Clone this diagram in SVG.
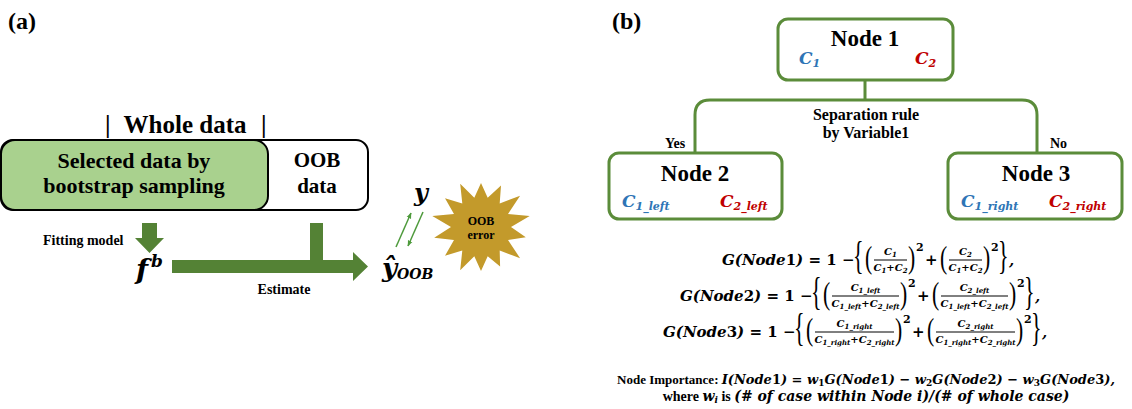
<svg xmlns="http://www.w3.org/2000/svg" width="1132" height="409" viewBox="0 0 1132 409">
<defs>
<style>
.lbl{font-family:"Liberation Serif",serif;font-weight:bold;fill:#000}
.m{font-family:"DejaVu Serif",serif;font-weight:bold;font-style:italic;fill:#000}
.up{font-style:normal}
.fr{font-family:"DejaVu Serif",serif;font-weight:bold;font-style:italic;font-size:10px;text-anchor:middle}
.sb{font-size:7px}
.sup{font-family:"DejaVu Serif",serif;font-weight:bold;font-size:11px}
.dl{font-family:"Liberation Serif",serif;font-weight:normal;fill:#000}
.bar{stroke:#000;stroke-width:1}
.node rect{fill:#fff;stroke:#5b8c3a;stroke-width:3}
.nt{font-family:"Liberation Serif",serif;font-weight:bold;font-size:23px;text-anchor:middle}
.cv{font-family:"DejaVu Serif",serif;font-weight:bold;font-style:italic;font-size:17px}
.cs{font-size:11px}
.blue{fill:#2e75b6}
.red{fill:#c00000}
.arr{fill:#548235}
.thin{stroke:#4e9a3c;stroke-width:1.5;fill:none}
</style>
<marker id="ah" viewBox="0 0 10 10" refX="9" refY="5" markerWidth="6" markerHeight="6" orient="auto" markerUnits="userSpaceOnUse">
<path d="M0,1 L10,5 L0,9 z" fill="#4e9a3c"/>
</marker>
</defs>
<rect width="1132" height="409" fill="#fff"/>

<!-- (a) -->
<text class="lbl" x="8" y="29" font-size="24">(a)</text>
<text class="lbl" x="612" y="29" font-size="24">(b)</text>

<g id="whole-label">
<text class="lbl" font-size="25" x="105" y="133">|</text>
<text class="lbl" font-size="25" x="185" y="133" text-anchor="middle">Whole data</text>
<text class="lbl" font-size="25" x="261" y="133">|</text>
</g>

<g id="whole-data">
<rect x="1" y="140" width="367" height="70" rx="12" fill="#fff" stroke="#000" stroke-width="2"/>
<text class="lbl" font-size="21" x="317" y="167" text-anchor="middle">OOB</text>
<text class="lbl" font-size="21" x="317" y="193" text-anchor="middle">data</text>
</g>
<g id="bootstrap">
<rect x="1" y="140" width="267" height="70" rx="14" fill="#a9d18e" stroke="#000" stroke-width="2"/>
<text class="lbl" font-size="22" x="134" y="168" text-anchor="middle">Selected data by</text>
<text class="lbl" font-size="22" x="134" y="193" text-anchor="middle">bootstrap sampling</text>
</g>

<g id="connectors-a">
<polygon class="arr" points="142,223 157,223 157,238 164,238 149.5,253 135,238 142,238"/>
<polygon class="arr" points="172,260 310,260 310,223 323,223 323,260 353,260 353,252 368,266.5 353,281 353,273 172,273"/>
<line class="thin" x1="396" y1="247" x2="411" y2="213" marker-end="url(#ah)"/>
<line class="thin" x1="423" y1="212" x2="408" y2="246" marker-end="url(#ah)"/>
<text class="lbl" font-size="14" x="43" y="245">Fitting model</text>
<text class="lbl" font-size="14" x="284" y="294" text-anchor="middle">Estimate</text>
</g>

<g id="fb">
<text class="m" font-size="28" x="136" y="279">f<tspan font-size="17" dx="3" dy="-12">b</tspan></text>
</g>
<g id="yhat">
<text class="m" font-size="26" x="382" y="277">ŷ<tspan font-size="14" dy="2">OOB</tspan></text>
</g>
<g id="y">
<text class="m" font-size="24" x="414" y="201">y</text>
</g>
<g id="oob-error">
<polygon fill="#c39a2b" points="481,183 487.7,197.8 501,185.6 499.7,203.5 520.1,195.8 508,214 529.7,215.9 511,227 525.8,237.2 508,240 520.1,258.2 499.7,250.5 500.1,266.6 487.7,256.2 481,271 474.3,256.2 460.2,270.2 462.3,250.5 445,255.7 454,240 434.2,237.7 451,227 432.3,215.9 454,214 445,198.3 462.3,203.5 460.2,183.8 474.3,197.8"/>
<text class="lbl" font-size="12" x="481" y="225" text-anchor="middle" fill="#3a2a05">OOB</text>
<text class="lbl" font-size="12" x="481" y="239" text-anchor="middle" fill="#3a2a05">error</text>
</g>

<!-- (b) -->
<g id="connectors">
<path d="M865,80 V100 M695,153 V115 Q695,100 710,100 H1022 Q1037,100 1037,115 V153" fill="none" stroke="#5b8c3a" stroke-width="3"/>
<text class="lbl" font-size="16" x="866" y="120" text-anchor="middle">Separation rule</text>
<text class="lbl" font-size="16" x="866" y="138" text-anchor="middle">by Variable1</text>
<text class="lbl" font-size="14" x="665" y="148">Yes</text>
<text class="lbl" font-size="14" x="1050" y="148">No</text>
</g>

<g id="node1" class="node">
<rect x="778" y="19" width="175" height="61" rx="10"/>
<text class="nt" x="865" y="46">Node 1</text>
<text class="cv blue" x="799" y="64">C<tspan class="cs" dy="3">1</tspan></text>
<text class="cv red" x="915" y="64">C<tspan class="cs" dy="3">2</tspan></text>
</g>
<g id="node2" class="node">
<rect x="609" y="153" width="173" height="66" rx="10"/>
<text class="nt" x="695" y="181">Node 2</text>
<text class="cv blue" x="622" y="207">C<tspan class="cs" dy="3">1_left</tspan></text>
<text class="cv red" x="720" y="207">C<tspan class="cs" dy="3">2_left</tspan></text>
</g>
<g id="node3" class="node">
<rect x="948" y="153" width="174" height="66" rx="10"/>
<text class="nt" x="1036" y="181">Node 3</text>
<text class="cv blue" x="961" y="207">C<tspan class="cs" dy="3">1_right</tspan></text>
<text class="cv red" x="1049" y="207">C<tspan class="cs" dy="3">2_right</tspan></text>
</g>

<!-- Formula line 1 : b=265, X=853, w=33 -->
<g id="formula1">
<text class="m" font-size="15" x="722" y="265">G(Node<tspan class="up">1</tspan>) = <tspan class="up">1</tspan> − </text>
<text class="dl" font-size="40" transform="translate(853,269) scale(0.55,1)">{</text>
<text class="dl" font-size="31" transform="translate(865,268) scale(0.7,1)">(</text>
<text class="fr" x="890.5" y="255">C<tspan class="sb" dy="2">1</tspan></text>
<line class="bar" x1="874" y1="260" x2="907" y2="260"/>
<text class="fr" x="890.5" y="271">C<tspan class="sb" dy="2">1</tspan><tspan dy="-2">+C</tspan><tspan class="sb" dy="2">2</tspan></text>
<text class="dl" font-size="31" transform="translate(908,268) scale(0.7,1)">)</text>
<text class="sup" x="916" y="251">2</text>
<text class="m up" font-size="15" x="925" y="265">+</text>
<text class="dl" font-size="31" transform="translate(940,268) scale(0.7,1)">(</text>
<text class="fr" x="965.5" y="255">C<tspan class="sb" dy="2">2</tspan></text>
<line class="bar" x1="949" y1="260" x2="982" y2="260"/>
<text class="fr" x="965.5" y="271">C<tspan class="sb" dy="2">1</tspan><tspan dy="-2">+C</tspan><tspan class="sb" dy="2">2</tspan></text>
<text class="dl" font-size="31" transform="translate(983,268) scale(0.7,1)">)</text>
<text class="sup" x="991" y="251">2</text>
<text class="dl" font-size="40" transform="translate(998,269) scale(0.55,1)">}</text>
<text class="m" font-size="15" x="1009" y="265">,</text>
</g>

<!-- Formula line 2 : b=301, X=811, w=67 -->
<g id="formula2">
<text class="m" font-size="15" x="680" y="301">G(Node<tspan class="up">2</tspan>) = <tspan class="up">1</tspan> − </text>
<text class="dl" font-size="40" transform="translate(811,305) scale(0.55,1)">{</text>
<text class="dl" font-size="31" transform="translate(823,304) scale(0.7,1)">(</text>
<text class="fr" x="865.5" y="291">C<tspan class="sb" dy="2">1_left</tspan></text>
<line class="bar" x1="832" y1="296" x2="899" y2="296"/>
<text class="fr" x="865.5" y="307">C<tspan class="sb" dy="2">1_left</tspan><tspan dy="-2">+C</tspan><tspan class="sb" dy="2">2_left</tspan></text>
<text class="dl" font-size="31" transform="translate(900,304) scale(0.7,1)">)</text>
<text class="sup" x="908" y="287">2</text>
<text class="m up" font-size="15" x="917" y="301">+</text>
<text class="dl" font-size="31" transform="translate(932,304) scale(0.7,1)">(</text>
<text class="fr" x="974.5" y="291">C<tspan class="sb" dy="2">2_left</tspan></text>
<line class="bar" x1="941" y1="296" x2="1008" y2="296"/>
<text class="fr" x="974.5" y="307">C<tspan class="sb" dy="2">1_left</tspan><tspan dy="-2">+C</tspan><tspan class="sb" dy="2">2_left</tspan></text>
<text class="dl" font-size="31" transform="translate(1009,304) scale(0.7,1)">)</text>
<text class="sup" x="1017" y="287">2</text>
<text class="dl" font-size="40" transform="translate(1024,305) scale(0.55,1)">}</text>
<text class="m" font-size="15" x="1035" y="301">,</text>
</g>

<!-- Formula line 3 : b=337, X=794, w=79 -->
<g id="formula3">
<text class="m" font-size="15" x="663" y="337">G(Node<tspan class="up">3</tspan>) = <tspan class="up">1</tspan> − </text>
<text class="dl" font-size="40" transform="translate(794,341) scale(0.55,1)">{</text>
<text class="dl" font-size="31" transform="translate(806,340) scale(0.7,1)">(</text>
<text class="fr" x="854.5" y="327">C<tspan class="sb" dy="2">1_right</tspan></text>
<line class="bar" x1="815" y1="332" x2="894" y2="332"/>
<text class="fr" x="854.5" y="343">C<tspan class="sb" dy="2">1_right</tspan><tspan dy="-2">+C</tspan><tspan class="sb" dy="2">2_right</tspan></text>
<text class="dl" font-size="31" transform="translate(895,340) scale(0.7,1)">)</text>
<text class="sup" x="903" y="323">2</text>
<text class="m up" font-size="15" x="912" y="337">+</text>
<text class="dl" font-size="31" transform="translate(927,340) scale(0.7,1)">(</text>
<text class="fr" x="975.5" y="327">C<tspan class="sb" dy="2">2_right</tspan></text>
<line class="bar" x1="936" y1="332" x2="1015" y2="332"/>
<text class="fr" x="975.5" y="343">C<tspan class="sb" dy="2">1_right</tspan><tspan dy="-2">+C</tspan><tspan class="sb" dy="2">2_right</tspan></text>
<text class="dl" font-size="31" transform="translate(1016,340) scale(0.7,1)">)</text>
<text class="sup" x="1024" y="323">2</text>
<text class="dl" font-size="40" transform="translate(1031,341) scale(0.55,1)">}</text>
<text class="m" font-size="15" x="1042" y="337">,</text>
</g>

<g id="importance">
<text x="866" y="384" text-anchor="middle" font-size="13"><tspan class="lbl">Node Importance: </tspan><tspan class="m">I(Node<tspan class="up">1</tspan>) = w<tspan font-size="9" class="up" dy="2">1</tspan><tspan dy="-2">G(Node</tspan><tspan class="up">1</tspan>) − w<tspan font-size="9" class="up" dy="2">2</tspan><tspan dy="-2">G(Node</tspan><tspan class="up">2</tspan>) − w<tspan font-size="9" class="up" dy="2">3</tspan><tspan dy="-2">G(Node</tspan><tspan class="up">3</tspan>),</tspan></text>
<text x="866" y="401" text-anchor="middle" font-size="14"><tspan class="lbl">where </tspan><tspan class="m">w<tspan font-size="9" dy="2">i</tspan></tspan><tspan class="lbl" dy="-2"> is </tspan><tspan class="m">(# of case within Node i)/(# of whole case)</tspan></text>
</g>
</svg>
